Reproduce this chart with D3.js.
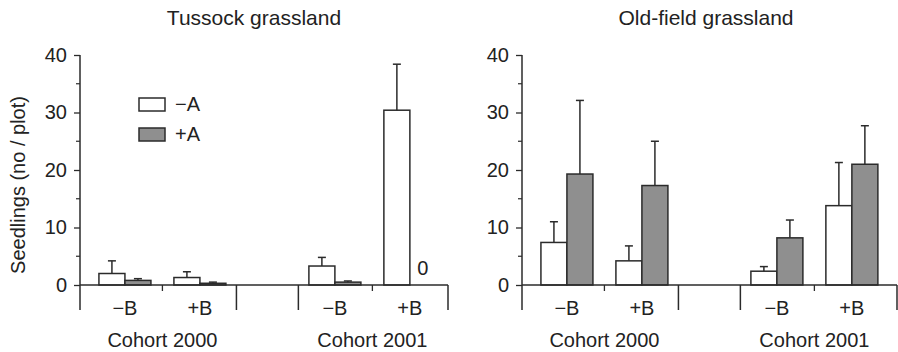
<!DOCTYPE html>
<html>
<head>
<meta charset="utf-8">
<script src="https://cdn.jsdelivr.net/npm/d3@7"></script>
<style>
  body { margin: 0; background: #fff; }
  text { font-family: "Liberation Sans", Arial, sans-serif; fill: #222; }
</style>
</head>
<body>
<div id="chart"></div>
<script>
const width = 898, height = 352;

// data
const cohorts = ["Cohort 2000", "Cohort 2001"];
const bLevels = ["\u2212B", "+B"];
const aLevels = ["\u2212A", "+A"];
const panelTitles = ["Tussock grassland", "Old-field grassland"];
const yTicks = [0, 10, 20, 30, 40];
const yMinorTicks = [5, 15, 25, 35];

// order: cohort 2000 -B (-A,+A), +B (-A,+A), cohort 2001 -B (-A,+A), +B (-A,+A)
const tussockMean = [2.0, 0.8, 1.3, 0.3, 3.3, 0.5, 30.4, 0];
const tussockSE   = [2.2, 0.3, 1.0, 0.2, 1.5, 0.2, 8.0, 0];
const oldfieldMean = [7.4, 19.3, 4.2, 17.3, 2.4, 8.2, 13.8, 21.0];
const oldfieldSE   = [3.6, 12.8, 2.6, 7.7, 0.8, 3.1, 7.5, 6.7];

const panels = [
  { title: panelTitles[0], mean: tussockMean, se: tussockSE, x0: 80, w: 368, titleX: 174, legend: true },
  { title: panelTitles[1], mean: oldfieldMean, se: oldfieldSE, x0: 522, w: 375, titleX: 184, legend: false }
];

const ink = "#2b2b2b";
const fills = { "\u2212A": "#ffffff", "+A": "#8f8f8f" };

let svg = d3.select("#chart")
  .append("svg")
  .attr("width", width)
  .attr("height", height);

svg.append("rect").attr("width", width).attr("height", height).attr("fill", "#fff");

let y = d3.scaleLinear().domain([0, 40]).range([285, 55]);

// cohort bands: same for both panels
let xCohort = d3.scaleBand().domain(cohorts).range([0, 370])
  .paddingInner(0.295).paddingOuter(0.0286).align(0.7);
let xB = d3.scalePoint().domain(bLevels).range([0, xCohort.bandwidth()]).padding(0.487);
let xA = d3.scaleBand().domain(aLevels).range([-26, 26]);

function rows(p) {
  let out = [];
  let i = 0;
  cohorts.forEach(c => bLevels.forEach(b => aLevels.forEach(a => {
    out.push({ cohort: c, b: b, a: a, mean: p.mean[i], se: p.se[i] });
    i++;
  })));
  return out;
}

panels.forEach(p => {
  let g = svg.append("g").attr("transform", "translate(" + p.x0 + ",0)");
  let data = rows(p);
  let cx = d => xCohort(d.cohort) + xB(d.b) + xA(d.a);

  // title
  g.append("text")
    .attr("x", p.titleX)
    .attr("y", 25)
    .attr("text-anchor", "middle")
    .style("font-size", "21px")
    .text(p.title);

  // y axis
  let yAxis = g.append("g")
    .call(d3.axisLeft(y).tickValues(yTicks).tickSize(6).tickPadding(7));
  yAxis.select(".domain").remove();
  yAxis.selectAll("line").attr("stroke", ink).attr("stroke-width", 1.3);
  yAxis.selectAll("text").style("font-size", "20px").attr("fill", "#222")
    .style("font-family", "Liberation Sans, Arial, sans-serif");

  g.selectAll(".minor").data(yMinorTicks).enter().append("line")
    .attr("class", "minor")
    .attr("x1", -4).attr("x2", 0)
    .attr("y1", d => y(d)).attr("y2", d => y(d))
    .attr("stroke", ink).attr("stroke-width", 1.2);

  // bars
  g.selectAll(".bar").data(data.filter(d => d.mean > 0)).enter().append("rect")
    .attr("class", "bar")
    .attr("x", d => cx(d))
    .attr("width", xA.bandwidth())
    .attr("y", d => y(d.mean))
    .attr("height", d => y(0) - y(d.mean))
    .attr("fill", d => fills[d.a])
    .attr("stroke", ink)
    .attr("stroke-width", 1.5);

  // error bars (upper only)
  let err = data.filter(d => d.se > 0);
  g.selectAll(".err").data(err).enter().append("line")
    .attr("x1", d => cx(d) + xA.bandwidth() / 2)
    .attr("x2", d => cx(d) + xA.bandwidth() / 2)
    .attr("y1", d => y(d.mean))
    .attr("y2", d => y(d.mean + d.se))
    .attr("stroke", ink).attr("stroke-width", 1.5);
  g.selectAll(".cap").data(err).enter().append("line")
    .attr("x1", d => cx(d) + xA.bandwidth() / 2 - 4)
    .attr("x2", d => cx(d) + xA.bandwidth() / 2 + 4)
    .attr("y1", d => y(d.mean + d.se))
    .attr("y2", d => y(d.mean + d.se))
    .attr("stroke", ink).attr("stroke-width", 1.5);

  // zero-value label
  g.selectAll(".zero").data(data.filter(d => d.mean === 0)).enter().append("text")
    .attr("x", d => cx(d) + xA.bandwidth() / 2)
    .attr("y", y(0) - 10)
    .attr("text-anchor", "middle")
    .style("font-size", "20px")
    .text("0");

  // x axis line and vertical axis line (extended below zero)
  g.append("line")
    .attr("x1", 0).attr("x2", p.w)
    .attr("y1", y(0)).attr("y2", y(0))
    .attr("stroke", ink).attr("stroke-width", 1.5);
  g.append("line")
    .attr("x1", 0).attr("x2", 0)
    .attr("y1", y(40)).attr("y2", 310)
    .attr("stroke", ink).attr("stroke-width", 1.5);

  // cohort separators: end of first band, start of second, end of axis
  let edges = [xCohort(cohorts[0]) + xCohort.bandwidth(), xCohort(cohorts[1]), p.w];
  g.selectAll(".sep").data(edges).enter().append("line")
    .attr("x1", d => d).attr("x2", d => d)
    .attr("y1", y(0)).attr("y2", 310)
    .attr("stroke", ink).attr("stroke-width", 1.5);

  // small ticks between -B and +B
  g.selectAll(".midtick").data(cohorts).enter().append("line")
    .attr("x1", d => xCohort(d) + xCohort.bandwidth() / 2)
    .attr("x2", d => xCohort(d) + xCohort.bandwidth() / 2)
    .attr("y1", y(0)).attr("y2", y(0) + 6)
    .attr("stroke", ink).attr("stroke-width", 1.3);

  // B labels
  cohorts.forEach(c => {
    g.selectAll(null).data(bLevels).enter().append("text")
      .attr("x", b => xCohort(c) + xB(b))
      .attr("y", 315)
      .attr("text-anchor", "middle")
      .style("font-size", "20px")
      .text(b => b);
  });

  // cohort labels
  g.selectAll(".cohort").data(cohorts).enter().append("text")
    .attr("x", d => xCohort(d) + xCohort.bandwidth() / 2)
    .attr("y", 347)
    .attr("text-anchor", "middle")
    .style("font-size", "20px")
    .text(d => d);

  // legend
  if (p.legend) {
    let lg = g.selectAll(".legend").data(aLevels).enter().append("g")
      .attr("transform", (d, i) => "translate(59," + (98 + i * 30) + ")");
    lg.append("rect")
      .attr("width", 26).attr("height", 13)
      .attr("fill", d => fills[d])
      .attr("stroke", ink).attr("stroke-width", 1.5);
    lg.append("text")
      .attr("x", 36).attr("y", 13)
      .style("font-size", "20px")
      .text(d => d);
  }
});

// y axis title
svg.append("text")
  .attr("transform", "translate(25,185) rotate(-90)")
  .attr("text-anchor", "middle")
  .style("font-size", "20px")
  .text("Seedlings (no / plot)");
</script>
</body>
</html>
